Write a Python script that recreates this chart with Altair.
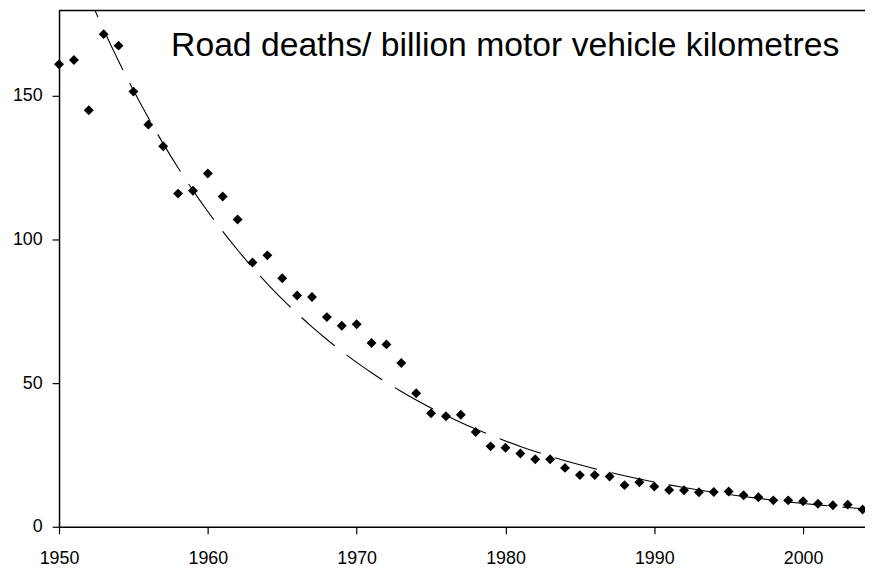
import altair as alt
import pandas as pd

years = list(range(1950, 2005))
deaths = [161, 162.5, 145, 171.5, 167.5, 151.5, 140, 132.5, 116, 117,
          123, 115, 107, 92, 94.5, 86.5, 80.5, 80, 73, 70,
          70.5, 64, 63.5, 57, 46.5, 39.5, 38.5, 39, 33, 28,
          27.5, 25.5, 23.5, 23.5, 20.5, 18, 18, 17.5, 14.5, 15.5,
          14, 12.8, 12.7, 12, 12.1, 12.3, 11, 10.3, 9.2, 9.2,
          8.9, 8, 7.5, 7.7, 6]
x_ticks = [1950, 1960, 1970, 1980, 1990, 2000]
y_ticks = [0, 50, 100, 150]
title_text = "Road deaths/ billion motor vehicle kilometres"

df = pd.DataFrame({"year": years, "v": deaths})
title_df = pd.DataFrame({"t": [title_text]})

FONT = "Liberation Sans"
W, H = 813.5, 521
xscale = alt.Scale(domain=[1950, 2004.16], nice=False, zero=False)
yscale = alt.Scale(domain=[0, 179.7], nice=False)

axis_common = dict(domainColor="black", domainWidth=1.5, tickColor="black",
                   tickWidth=1.2, tickSize=7, labelFont=FONT, labelFontSize=18,
                   labelColor="black", grid=False, title=None, labelFlush=False)
xaxis = alt.Axis(values=x_ticks, format="d", labelPadding=16, **axis_common)
yaxis = alt.Axis(values=y_ticks, labelPadding=10, **axis_common)

base = alt.Chart(df)

# exponential trend line (least squares on log values, computed by Vega-Lite transforms)
trend = base.transform_calculate(
    ly="log(datum.v)"
).transform_joinaggregate(
    mx="mean(year)", mly="mean(ly)"
).transform_calculate(
    dxy="(datum.year - datum.mx) * (datum.ly - datum.mly)",
    dxx="(datum.year - datum.mx) * (datum.year - datum.mx)"
).transform_joinaggregate(
    sxy="sum(dxy)", sxx="sum(dxx)"
).transform_calculate(
    fit="exp(datum.mly + datum.sxy / datum.sxx * (datum.year - datum.mx))"
).mark_line(color="black", strokeWidth=1.1, strokeDash=[44, 15], clip=True,
            interpolate="monotone").encode(
    x=alt.X("year:Q", scale=xscale, axis=xaxis),
    y=alt.Y("fit:Q", scale=yscale, axis=yaxis),
)

points = base.mark_point(shape="diamond", filled=True, color="black", size=100,
                         opacity=1).encode(
    x=alt.X("year:Q", scale=xscale, axis=xaxis),
    y=alt.Y("v:Q", scale=yscale, axis=yaxis),
)

# top frame line of the plot area
top_border = alt.Chart(title_df).mark_rule(color="black", strokeWidth=1.5).encode(
    x=alt.value(0), x2=alt.value(W), y=alt.value(0)
)

title_mark = alt.Chart(title_df).mark_text(
    font=FONT, fontSize=34, color="black", align="right", baseline="alphabetic"
).encode(text="t:N", x=alt.value(787.5), y=alt.value(46.3))

chart = alt.layer(trend, points, top_border, title_mark).properties(
    width=W,
    height=H,
    autosize=alt.AutoSizeParams(type="none"),
    padding={"left": 51.5, "top": 0, "right": 0, "bottom": 42},
).configure_view(strokeWidth=0, strokeOpacity=0)

chart.save("out.html", embed_options={"renderer": "svg", "actions": False})
